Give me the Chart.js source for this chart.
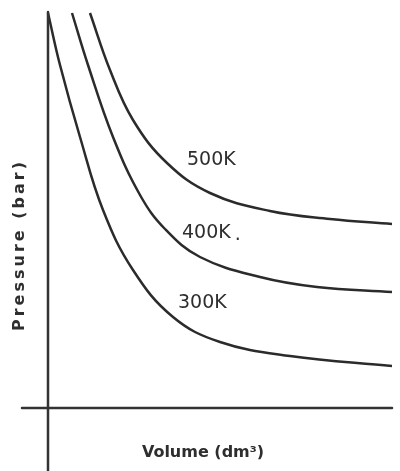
<!DOCTYPE html>
<html>
<head>
<meta charset="utf-8">
<script src="https://cdn.jsdelivr.net/npm/chart.js@4"></script>
<style>
  html, body { margin: 0; padding: 0; background: #fff; }
  #wrap { width: 400px; height: 471px; }
</style>
</head>
<body>
<div id="wrap"><canvas id="isotherms"></canvas></div>
<script>
// values (arbitrary units, no ticks on the original)
const seriesNames = ['300K', '400K', '500K'];
const vol300 = [0.0, 1.2, 3.2, 5.5, 8.5, 12.5, 17.2, 24.2, 34.4];
const pres300 = [39.5, 34.3, 27.1, 19.8, 13.8, 9.1, 6.6, 5.2, 4.2];
const vol400 = [2.4, 4.0, 6.5, 9.2, 11.7, 15.2, 21.2, 26.9, 34.4];
const pres400 = [39.5, 34.3, 27.1, 21.3, 17.9, 15.1, 13.1, 12.1, 11.6];
const vol500 = [4.2, 6.2, 8.5, 11.9, 16.2, 22.2, 28.2, 34.4];
const pres500 = [39.5, 33.8, 28.8, 24.5, 21.5, 19.7, 18.9, 18.4];

const lineColor = '#2b2b2b';

function toPoints(xs, ys) {
    return xs.map((x, i) => ({ x: x, y: ys[i] }));
}

// where each temperature label sits (data coords, left edge / middle)
const labelSpots = {
    '300K': { x: 13.0, y: 10.5, dot: false },
    '400K': { x: 13.4, y: 17.5, dot: true },
    '500K': { x: 13.9, y: 24.8, dot: false }
};

// axes crossing at the origin, titles and curve labels
const figurePlugin = {
    id: 'figure',
    afterDatasetsDraw(chart) {
        const ctx = chart.ctx;
        const xs = chart.scales.x;
        const ys = chart.scales.y;
        const area = chart.chartArea;
        const x0 = xs.getPixelForValue(0);
        const y0 = ys.getPixelForValue(0);

        ctx.save();
        ctx.strokeStyle = '#333';
        ctx.lineWidth = 2.5;
        ctx.lineCap = 'round';
        ctx.beginPath();
        ctx.moveTo(area.left, y0);
        ctx.lineTo(area.right, y0);
        ctx.moveTo(x0, area.top);
        ctx.lineTo(x0, chart.height);
        ctx.stroke();

        // curve labels
        ctx.fillStyle = '#2e2e2e';
        ctx.font = '19px "DejaVu Sans"';
        ctx.textAlign = 'left';
        ctx.textBaseline = 'middle';
        seriesNames.forEach(name => {
            const s = labelSpots[name];
            const px = xs.getPixelForValue(s.x);
            const py = ys.getPixelForValue(s.y);
            ctx.fillText(name, px, py);
            if (s.dot) {
                const w = ctx.measureText(name).width;
                ctx.fillText('.', px + w + 4, py + 2);
            }
        });

        // axis titles
        ctx.font = 'bold 16px "DejaVu Sans"';
        ctx.textAlign = 'center';
        ctx.fillText('Volume (dm³)', 203, 453);

        ctx.translate(20, 245);
        ctx.rotate(-Math.PI / 2);
        ctx.letterSpacing = '3px';
        ctx.font = 'bold 16px "DejaVu Sans"';
        ctx.fillText('Pressure (bar)', 0, 0);
        ctx.restore();
    }
};

const datasets = [
    toPoints(vol300, pres300),
    toPoints(vol400, pres400),
    toPoints(vol500, pres500)
].map((pts, i) => ({
    label: seriesNames[i],
    data: pts,
    borderColor: lineColor,
    borderWidth: 2.5,
    pointRadius: 0,
    fill: false,
    tension: 0.4
}));

new Chart(document.getElementById('isotherms').getContext('2d'), {
    type: 'line',
    data: { datasets: datasets },
    options: {
        responsive: true,
        maintainAspectRatio: false,
        animation: false,
        layout: { padding: { left: 22, right: 8, top: 12, bottom: 33 } },
        plugins: {
            legend: { display: false },
            tooltip: { enabled: false }
        },
        scales: {
            x: { type: 'linear', min: -2.6, max: 34.4, display: false },
            y: { type: 'linear', min: -3.0, max: 39.6, display: false }
        }
    },
    plugins: [figurePlugin]
});
</script>
</body>
</html>
